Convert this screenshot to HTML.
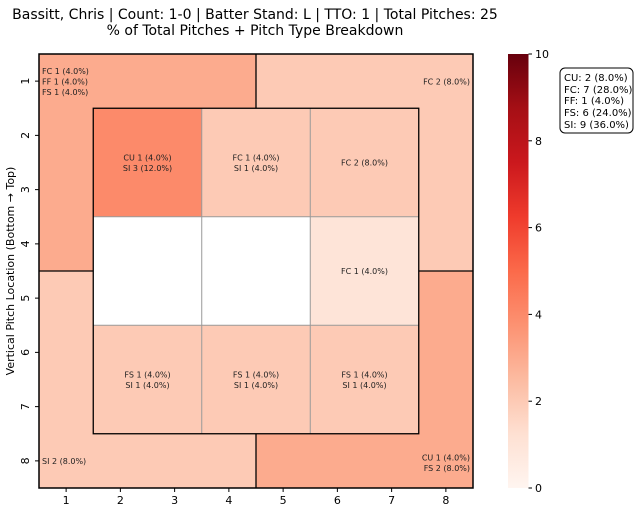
<!DOCTYPE html>
<html><head><meta charset="utf-8"><style>
body{margin:0;background:#fff;}
svg text{font-family:"DejaVu Sans","Liberation Sans",sans-serif;}
</style></head><body>
<svg id="chart" width="638" height="513" xmlns="http://www.w3.org/2000/svg">
<text x="255" y="19" font-size="14" text-anchor="middle">Bassitt, Chris | Count: 1-0 | Batter Stand: L | TTO: 1 | Total Pitches: 25</text>
<text x="255" y="35" font-size="14" text-anchor="middle">% of Total Pitches + Pitch Type Breakdown</text>
<g id="cells"></g><g id="lines"></g><g id="labels"></g><g id="axes"></g>
<defs><linearGradient id="reds" x1="0" y1="1" x2="0" y2="0">
<stop offset="0" stop-color="#fff5f0"/><stop offset="0.125" stop-color="#fee0d2"/><stop offset="0.25" stop-color="#fcbba1"/><stop offset="0.375" stop-color="#fc9272"/><stop offset="0.5" stop-color="#fb6a4a"/><stop offset="0.625" stop-color="#ef3b2c"/><stop offset="0.75" stop-color="#cb181d"/><stop offset="0.875" stop-color="#a50f15"/><stop offset="1" stop-color="#67000d"/>
</linearGradient></defs>
<rect x="508" y="54" width="20.5" height="434" fill="url(#reds)"/>
<g id="cbticks"></g>
<g>
<rect x="560" y="68" width="73" height="65" rx="5" fill="#fff" stroke="#000" stroke-width="1"/>
<text x="564" y="81" font-size="10">CU: 2 (8.0%)</text>
<text x="564" y="93" font-size="10">FC: 7 (28.0%)</text>
<text x="564" y="104" font-size="10">FF: 1 (4.0%)</text>
<text x="564" y="116" font-size="10">FS: 6 (24.0%)</text>
<text x="564" y="128" font-size="10">SI: 9 (36.0%)</text>
</g>
<text transform="translate(14,271) rotate(-90)" font-size="11" text-anchor="middle">Vertical Pitch Location (Bottom → Top)</text>
</svg>
<script>
const zoneNames=["top-left","top-right","bottom-left","bottom-right","z1","z2","z3","z4","z5","z6","z7","z8","z9"];
const zoneCounts=[3,2,2,3,4,2,2,0,0,1,2,2,2];
const zoneLabels=[["FC 1 (4.0%)","FF 1 (4.0%)","FS 1 (4.0%)"],["FC 2 (8.0%)"],["SI 2 (8.0%)"],["CU 1 (4.0%)","FS 2 (8.0%)"],
["CU 1 (4.0%)","SI 3 (12.0%)"],["FC 1 (4.0%)","SI 1 (4.0%)"],["FC 2 (8.0%)"],[],[],["FC 1 (4.0%)"],
["FS 1 (4.0%)","SI 1 (4.0%)"],["FS 1 (4.0%)","SI 1 (4.0%)"],["FS 1 (4.0%)","SI 1 (4.0%)"]];
const xTicks=[1,2,3,4,5,6,7,8];
const yTicks=[1,2,3,4,5,6,7,8];
const cbTicks=[0,2,4,6,8,10];
const vmax=10;
const NS="http://www.w3.org/2000/svg";
const X0=39,Y0=54,C=54.25;
const sx=v=>X0+(v-1)*C, sy=v=>Y0+(v-1)*C;
const stops=[[255,245,240],[254,224,210],[252,187,161],[252,146,114],[251,106,74],[239,59,44],[203,24,29],[165,15,21],[103,0,13]];
function color(v){if(v===0)return "#ffffff";let t=Math.min(1,v/vmax)*8,i=Math.min(7,Math.floor(t)),f=t-i;
const c=stops[i].map((a,k)=>Math.round(a+(stops[i+1][k]-a)*f));return `rgb(${c})`;}
function zoneOf(c,r){
 if(c>=2&&c<=7&&r>=2&&r<=7){return 4+Math.floor((r-2)/2)*3+Math.floor((c-2)/2);}
 const top=r<=4,left=c<=4;
 return top?(left?0:1):(left?2:3);
}
function mk(tag,attrs,parent,txt){const e=document.createElementNS(NS,tag);for(const k in attrs)e.setAttribute(k,attrs[k]);if(txt!==undefined)e.textContent=txt;parent.appendChild(e);return e;}
const cells=document.getElementById('cells');
for(let r=1;r<=8;r++)for(let c=1;c<=8;c++){
 const z=zoneOf(c,r);
 const e=mk('rect',{x:sx(c),y:sy(r),width:C+0.5,height:C+0.5,fill:color(zoneCounts[z])},cells);
 
 
}
const lines=document.getElementById('lines');
[4,6].forEach(v=>{
 mk('line',{x1:sx(v),y1:sy(2),x2:sx(v),y2:sy(8),stroke:'#999',"stroke-width":1},lines);
 mk('line',{x1:sx(2),y1:sy(v),x2:sx(8),y2:sy(v),stroke:'#999',"stroke-width":1},lines);
});
mk('rect',{x:sx(2),y:sy(2),width:6*C,height:6*C,fill:'none',stroke:'#000',"stroke-width":1.3},lines);
mk('line',{x1:sx(5),y1:sy(1),x2:sx(5),y2:sy(2),stroke:'#000',"stroke-width":1.3},lines);
mk('line',{x1:sx(5),y1:sy(8),x2:sx(5),y2:sy(9),stroke:'#000',"stroke-width":1.3},lines);
mk('line',{x1:sx(1),y1:sy(5),x2:sx(2),y2:sy(5),stroke:'#000',"stroke-width":1.3},lines);
mk('line',{x1:sx(8),y1:sy(5),x2:sx(9),y2:sy(5),stroke:'#000',"stroke-width":1.3},lines);
mk('rect',{x:X0,y:Y0,width:8*C,height:8*C,fill:'none',stroke:'#000',"stroke-width":1.5},lines);
const lab=document.getElementById('labels');
const fs=8,lh=10.5;
zoneLabels.forEach((ls,z)=>{
 if(!ls.length)return;
 let x,y,anchor;
 if(z===0){x=X0+3;y=Y0+17;anchor='start';}
 else if(z===1){x=X0+8*C-3;y=Y0+27.5;anchor='end';}
 else if(z===2){x=X0+3;y=Y0+7.5*C;anchor='start';}
 else if(z===3){x=X0+8*C-3;y=Y0+7.5*C+2-lh*(ls.length-1)/2;anchor='end';}
 else{const i=z-4,cc=2+(i%3)*2,rr=2+Math.floor(i/3)*2;x=sx(cc+1);y=sy(rr+1)-lh*(ls.length-1)/2;anchor='middle';}
 ls.forEach((t,k)=>{const e=mk('text',{x:x,y:y+k*lh+3,"font-size":fs,"text-anchor":anchor,fill:'#222'},lab,t);
  
  });
});
const ax=document.getElementById('axes');
xTicks.forEach(v=>{const x=sx(v+0.5);
 mk('line',{x1:x,y1:Y0+8*C,x2:x,y2:Y0+8*C+4,stroke:'#000'},ax);
 const e=mk('text',{x:x,y:Y0+8*C+16,"font-size":11,"text-anchor":"middle"},ax,String(v));
 
 });
yTicks.forEach(v=>{const y=sy(v+0.5);
 mk('line',{x1:X0-4,y1:y,x2:X0,y2:y,stroke:'#000'},ax);
 const e=mk('text',{x:0,y:0,"font-size":11,"text-anchor":"middle",transform:`translate(${X0-10},${y}) rotate(-90)`},ax,String(v));
 
 });
const cb=document.getElementById('cbticks');
cbTicks.forEach(v=>{const y=488-v/vmax*434;
 mk('line',{x1:528.5,y1:y,x2:532,y2:y,stroke:'#000'},cb);
 const e=mk('text',{x:535,y:y+4,"font-size":11},cb,String(v));
 
 });
</script>
</body></html>
